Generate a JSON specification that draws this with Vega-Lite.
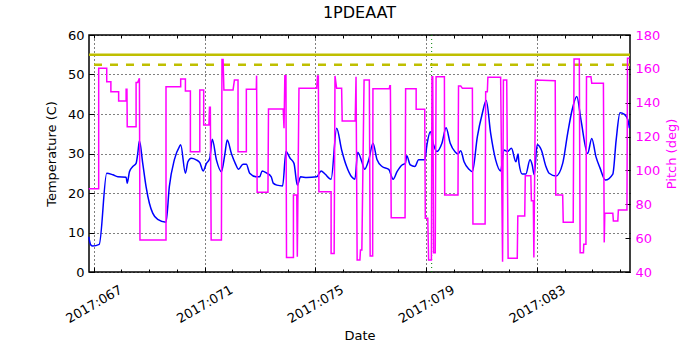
{
  "$schema": "https://vega.github.io/schema/vega-lite/v6.json",
  "width": 541,
  "height": 237,
  "autosize": "none",
  "padding": {"left": 89, "top": 35, "right": 70, "bottom": 78},
  "title": {"text": "1PDEAAT", "fontSize": 16, "font": "DejaVu Sans", "fontWeight": "normal", "offset": 8, "color": "black"},
  "config": {
    "view": {"stroke": "black", "strokeWidth": 1.5},
    "axis": {"labelFont": "DejaVu Sans", "titleFont": "DejaVu Sans", "labelFontSize": 13, "titleFontSize": 13, "titleFontWeight": "normal", "domain": false, "tickColor": "black", "labelColor": "black", "titleColor": "black"}
  },
  "datasets": {
    "temp": [
      {"day": 66.82, "temp": 8.9}, {"day": 66.9, "temp": 6.8}, {"day": 66.96, "temp": 6.6}, {"day": 67.2, "temp": 7.0},
      {"day": 67.47, "temp": 25.0}, {"day": 67.69, "temp": 24.6}, {"day": 67.87, "temp": 24.1}, {"day": 68.17, "temp": 24.0},
      {"day": 68.21, "temp": 22.5}, {"day": 68.29, "temp": 25.4}, {"day": 68.41, "temp": 26.7}, {"day": 68.53, "temp": 27.5},
      {"day": 68.59, "temp": 30.0}, {"day": 68.65, "temp": 33.2}, {"day": 68.77, "temp": 27.5}, {"day": 68.89, "temp": 21.6},
      {"day": 69.01, "temp": 17.4}, {"day": 69.13, "temp": 14.9}, {"day": 69.31, "temp": 13.3}, {"day": 69.61, "temp": 12.6},
      {"day": 69.73, "temp": 21.6}, {"day": 69.91, "temp": 28.4}, {"day": 70.09, "temp": 31.7}, {"day": 70.14, "temp": 32.2},
      {"day": 70.31, "temp": 25.0}, {"day": 70.4, "temp": 27.9}, {"day": 70.52, "temp": 28.8}, {"day": 70.7, "temp": 28.4},
      {"day": 70.83, "temp": 27.7}, {"day": 70.95, "temp": 25.6}, {"day": 71.07, "temp": 27.5}, {"day": 71.19, "temp": 28.8},
      {"day": 71.28, "temp": 33.6}, {"day": 71.43, "temp": 28.4}, {"day": 71.61, "temp": 25.4}, {"day": 71.73, "temp": 29.6},
      {"day": 71.82, "temp": 33.4}, {"day": 71.97, "temp": 30.0}, {"day": 72.11, "temp": 27.5}, {"day": 72.23, "temp": 26.0},
      {"day": 72.39, "temp": 27.3}, {"day": 72.51, "temp": 27.3}, {"day": 72.63, "temp": 25.0}, {"day": 72.87, "temp": 24.1},
      {"day": 72.99, "temp": 24.1}, {"day": 73.08, "temp": 25.6}, {"day": 73.23, "temp": 25.1}, {"day": 73.41, "temp": 24.1},
      {"day": 73.48, "temp": 22.5}, {"day": 73.61, "temp": 22.0}, {"day": 73.82, "temp": 21.8}, {"day": 73.94, "temp": 30.5},
      {"day": 74.09, "temp": 28.8}, {"day": 74.23, "temp": 27.5}, {"day": 74.35, "temp": 22.0}, {"day": 74.47, "temp": 24.1},
      {"day": 74.69, "temp": 23.9}, {"day": 75.05, "temp": 24.1}, {"day": 75.21, "temp": 25.6}, {"day": 75.35, "temp": 24.8},
      {"day": 75.57, "temp": 23.5}, {"day": 75.77, "temp": 36.4}, {"day": 75.95, "temp": 30.9}, {"day": 76.13, "temp": 26.7},
      {"day": 76.31, "temp": 24.1}, {"day": 76.43, "temp": 23.5}, {"day": 76.53, "temp": 30.3}, {"day": 76.68, "temp": 27.9},
      {"day": 76.78, "temp": 26.0}, {"day": 76.93, "temp": 28.4}, {"day": 77.08, "temp": 32.6}, {"day": 77.23, "temp": 28.4},
      {"day": 77.41, "temp": 26.7}, {"day": 77.65, "temp": 26.0}, {"day": 77.81, "temp": 23.5}, {"day": 77.95, "temp": 25.4},
      {"day": 78.13, "temp": 27.1}, {"day": 78.25, "temp": 27.5}, {"day": 78.3, "temp": 29.4}, {"day": 78.43, "temp": 27.1},
      {"day": 78.59, "temp": 26.7}, {"day": 78.73, "temp": 28.4}, {"day": 78.95, "temp": 28.4}, {"day": 79.03, "temp": 32.2},
      {"day": 79.15, "temp": 35.5}, {"day": 79.27, "temp": 32.2}, {"day": 79.39, "temp": 30.5}, {"day": 79.57, "temp": 32.6},
      {"day": 79.72, "temp": 36.5}, {"day": 79.87, "temp": 32.6}, {"day": 80.05, "temp": 30.4}, {"day": 80.15, "temp": 29.9},
      {"day": 80.25, "temp": 30.7}, {"day": 80.37, "temp": 27.9}, {"day": 80.55, "temp": 26.0}, {"day": 80.67, "temp": 25.4},
      {"day": 80.85, "temp": 34.3}, {"day": 81.03, "temp": 40.2}, {"day": 81.17, "temp": 43.4}, {"day": 81.33, "temp": 35.1},
      {"day": 81.51, "temp": 28.4}, {"day": 81.69, "temp": 25.6}, {"day": 81.81, "temp": 30.9}, {"day": 81.93, "temp": 30.5},
      {"day": 82.08, "temp": 31.3}, {"day": 82.24, "temp": 27.9}, {"day": 82.32, "temp": 29.9}, {"day": 82.35, "temp": 27.7},
      {"day": 82.47, "temp": 24.8}, {"day": 82.6, "temp": 24.8}, {"day": 82.75, "temp": 28.4}, {"day": 82.83, "temp": 27.1},
      {"day": 82.9, "temp": 24.6}, {"day": 83.01, "temp": 32.2}, {"day": 83.16, "temp": 30.9}, {"day": 83.32, "temp": 26.8},
      {"day": 83.44, "temp": 25.0}, {"day": 83.69, "temp": 24.3}, {"day": 83.93, "temp": 27.5}, {"day": 84.11, "temp": 35.1},
      {"day": 84.27, "temp": 41.0}, {"day": 84.44, "temp": 44.4}, {"day": 84.59, "temp": 38.5}, {"day": 84.83, "temp": 30.0},
      {"day": 84.98, "temp": 33.8}, {"day": 85.13, "temp": 29.2}, {"day": 85.28, "temp": 26.3}, {"day": 85.47, "temp": 23.3},
      {"day": 85.74, "temp": 24.8}, {"day": 85.86, "temp": 33.4}, {"day": 86.0, "temp": 40.3}, {"day": 86.16, "temp": 39.9},
      {"day": 86.28, "temp": 38.6}, {"day": 86.34, "temp": 36.4}
    ],
    "pitch": [
      {"i": 1, "day": 66.82, "pitch": 89.2}, {"i": 2, "day": 67.18, "pitch": 89.2}, {"i": 3, "day": 67.18, "pitch": 160.3},
      {"i": 4, "day": 67.47, "pitch": 160.3}, {"i": 5, "day": 67.47, "pitch": 152.4}, {"i": 6, "day": 67.62, "pitch": 152.4},
      {"i": 7, "day": 67.62, "pitch": 146.5}, {"i": 8, "day": 67.9, "pitch": 146.5}, {"i": 9, "day": 67.9, "pitch": 141},
      {"i": 10, "day": 68.17, "pitch": 141}, {"i": 11, "day": 68.17, "pitch": 147.9}, {"i": 12, "day": 68.2, "pitch": 147.9},
      {"i": 13, "day": 68.21, "pitch": 125.8}, {"i": 14, "day": 68.53, "pitch": 125.8}, {"i": 15, "day": 68.53, "pitch": 152},
      {"i": 16, "day": 68.59, "pitch": 152}, {"i": 17, "day": 68.65, "pitch": 154.4}, {"i": 18, "day": 68.67, "pitch": 58.9},
      {"i": 19, "day": 69.61, "pitch": 58.9}, {"i": 20, "day": 69.61, "pitch": 149.5}, {"i": 21, "day": 70.14, "pitch": 149.5},
      {"i": 22, "day": 70.14, "pitch": 154}, {"i": 23, "day": 70.31, "pitch": 154}, {"i": 24, "day": 70.31, "pitch": 146.9},
      {"i": 25, "day": 70.49, "pitch": 146.9}, {"i": 26, "day": 70.49, "pitch": 111.1}, {"i": 27, "day": 70.83, "pitch": 111.1},
      {"i": 28, "day": 70.83, "pitch": 147.5}, {"i": 29, "day": 70.97, "pitch": 147.5}, {"i": 30, "day": 70.97, "pitch": 126.8},
      {"i": 31, "day": 71.16, "pitch": 126.8}, {"i": 32, "day": 71.18, "pitch": 137.3}, {"i": 33, "day": 71.21, "pitch": 137.3},
      {"i": 34, "day": 71.24, "pitch": 58.9}, {"i": 35, "day": 71.61, "pitch": 58.9}, {"i": 36, "day": 71.63, "pitch": 165.6},
      {"i": 37, "day": 71.67, "pitch": 165.6}, {"i": 38, "day": 71.7, "pitch": 147.5}, {"i": 39, "day": 72.03, "pitch": 147.5},
      {"i": 40, "day": 72.08, "pitch": 153.4}, {"i": 41, "day": 72.21, "pitch": 153.4}, {"i": 42, "day": 72.21, "pitch": 111.1},
      {"i": 43, "day": 72.51, "pitch": 111.1}, {"i": 44, "day": 72.51, "pitch": 147.9}, {"i": 45, "day": 72.87, "pitch": 147.9},
      {"i": 46, "day": 72.88, "pitch": 156}, {"i": 47, "day": 72.9, "pitch": 87.1}, {"i": 48, "day": 73.29, "pitch": 87.1},
      {"i": 49, "day": 73.31, "pitch": 136.3}, {"i": 50, "day": 73.84, "pitch": 136.3}, {"i": 51, "day": 73.87, "pitch": 124.9},
      {"i": 52, "day": 73.9, "pitch": 156}, {"i": 53, "day": 73.94, "pitch": 156}, {"i": 54, "day": 73.96, "pitch": 48.5},
      {"i": 55, "day": 74.21, "pitch": 48.5}, {"i": 56, "day": 74.21, "pitch": 85.5}, {"i": 57, "day": 74.33, "pitch": 85.5},
      {"i": 58, "day": 74.35, "pitch": 49}, {"i": 59, "day": 74.41, "pitch": 148.5}, {"i": 60, "day": 75.05, "pitch": 148.5},
      {"i": 61, "day": 75.08, "pitch": 155.8}, {"i": 62, "day": 75.11, "pitch": 155.8}, {"i": 63, "day": 75.13, "pitch": 87.4},
      {"i": 64, "day": 75.57, "pitch": 87.4}, {"i": 65, "day": 75.57, "pitch": 51}, {"i": 66, "day": 75.68, "pitch": 51},
      {"i": 67, "day": 75.71, "pitch": 155.8}, {"i": 68, "day": 75.77, "pitch": 148.5}, {"i": 69, "day": 75.95, "pitch": 148.5},
      {"i": 70, "day": 75.97, "pitch": 129.2}, {"i": 71, "day": 76.44, "pitch": 129.2}, {"i": 72, "day": 76.47, "pitch": 155.4},
      {"i": 73, "day": 76.51, "pitch": 47.1}, {"i": 74, "day": 76.61, "pitch": 47.1}, {"i": 75, "day": 76.63, "pitch": 53},
      {"i": 76, "day": 76.68, "pitch": 53}, {"i": 77, "day": 76.76, "pitch": 153.4}, {"i": 78, "day": 76.95, "pitch": 153.4},
      {"i": 79, "day": 76.98, "pitch": 49.5}, {"i": 80, "day": 77.07, "pitch": 49.5}, {"i": 81, "day": 77.08, "pitch": 148.3},
      {"i": 82, "day": 77.67, "pitch": 148.3}, {"i": 83, "day": 77.69, "pitch": 150}, {"i": 84, "day": 77.71, "pitch": 150},
      {"i": 85, "day": 77.74, "pitch": 72.1}, {"i": 86, "day": 78.24, "pitch": 72.1}, {"i": 87, "day": 78.26, "pitch": 148.3},
      {"i": 88, "day": 78.64, "pitch": 148.3}, {"i": 89, "day": 78.64, "pitch": 136.1}, {"i": 90, "day": 78.95, "pitch": 136.1},
      {"i": 91, "day": 78.97, "pitch": 71.7}, {"i": 92, "day": 79.06, "pitch": 71.7}, {"i": 93, "day": 79.09, "pitch": 47.1},
      {"i": 94, "day": 79.19, "pitch": 47.1}, {"i": 95, "day": 79.21, "pitch": 155.4}, {"i": 96, "day": 79.24, "pitch": 155.4},
      {"i": 97, "day": 79.27, "pitch": 51.4}, {"i": 98, "day": 79.33, "pitch": 51.4}, {"i": 99, "day": 79.36, "pitch": 155.4},
      {"i": 100, "day": 79.66, "pitch": 155.4}, {"i": 101, "day": 79.67, "pitch": 85.5}, {"i": 102, "day": 80.15, "pitch": 85.5},
      {"i": 103, "day": 80.17, "pitch": 149.9}, {"i": 104, "day": 80.25, "pitch": 149.9}, {"i": 105, "day": 80.31, "pitch": 148.5},
      {"i": 106, "day": 80.67, "pitch": 148.5}, {"i": 107, "day": 80.69, "pitch": 68.4}, {"i": 108, "day": 81.13, "pitch": 68.4},
      {"i": 109, "day": 81.15, "pitch": 146.5}, {"i": 110, "day": 81.21, "pitch": 146.5}, {"i": 111, "day": 81.23, "pitch": 155},
      {"i": 112, "day": 81.69, "pitch": 155}, {"i": 113, "day": 81.76, "pitch": 46.1}, {"i": 114, "day": 81.79, "pitch": 153.4},
      {"i": 115, "day": 81.91, "pitch": 153.4}, {"i": 116, "day": 81.96, "pitch": 48.1}, {"i": 117, "day": 82.29, "pitch": 48.1},
      {"i": 118, "day": 82.31, "pitch": 73.1}, {"i": 119, "day": 82.56, "pitch": 73.1}, {"i": 120, "day": 82.58, "pitch": 96.9},
      {"i": 121, "day": 82.78, "pitch": 96.9}, {"i": 122, "day": 82.8, "pitch": 82.1}, {"i": 123, "day": 82.87, "pitch": 82.1},
      {"i": 124, "day": 82.89, "pitch": 48.5}, {"i": 125, "day": 82.95, "pitch": 153.4}, {"i": 126, "day": 83.66, "pitch": 153},
      {"i": 127, "day": 83.68, "pitch": 85.5}, {"i": 128, "day": 83.93, "pitch": 85.5}, {"i": 129, "day": 83.95, "pitch": 69.4},
      {"i": 130, "day": 84.31, "pitch": 69.4}, {"i": 131, "day": 84.34, "pitch": 165.8}, {"i": 132, "day": 84.53, "pitch": 165.8},
      {"i": 133, "day": 84.56, "pitch": 51.4}, {"i": 134, "day": 84.68, "pitch": 51.4}, {"i": 135, "day": 84.69, "pitch": 56.4},
      {"i": 136, "day": 84.77, "pitch": 56.4}, {"i": 137, "day": 84.79, "pitch": 155.4}, {"i": 138, "day": 84.95, "pitch": 155.4},
      {"i": 139, "day": 84.98, "pitch": 151.5}, {"i": 140, "day": 85.4, "pitch": 151.5}, {"i": 141, "day": 85.43, "pitch": 57.5},
      {"i": 142, "day": 85.45, "pitch": 74.7}, {"i": 143, "day": 85.74, "pitch": 74.7}, {"i": 144, "day": 85.76, "pitch": 70.1},
      {"i": 145, "day": 85.92, "pitch": 70.1}, {"i": 146, "day": 85.94, "pitch": 76.6}, {"i": 147, "day": 86.25, "pitch": 76.6},
      {"i": 148, "day": 86.27, "pitch": 166.2}, {"i": 149, "day": 86.34, "pitch": 166.2}
    ],
    "limitSolid": [{"level": 55}],
    "limitDashed": [{"level": 52.5}],
    "marker": [{"day": 79.2}]
  },
  "layer": [
    {
      "data": {"name": "marker"},
      "mark": {"type": "rule", "color": "#008000", "strokeWidth": 1, "strokeDash": [1, 3]},
      "encoding": {
        "x": {"field": "day", "type": "quantitative", "scale": {"domain": [66.83, 86.36], "nice": false, "zero": false},
              "axis": {"orient": "top", "values": [67,68,69,70,71,72,73,74,75,76,77,78,79,80,81,82,83,84,85,86], "labels": false, "grid": false, "tickSize": -3, "title": null}}
      }
    },
    {
      "data": {"name": "temp"},
      "mark": {"type": "line", "color": "#0000ff", "strokeWidth": 1.5, "interpolate": "monotone"},
      "encoding": {
        "x": {"field": "day", "type": "quantitative",
              "axis": {"orient": "bottom", "values": [67, 71, 75, 79, 83], "labelExpr": "'2017:0' + datum.value", "labelAngle": -30, "labelAlign": "center", "labelBaseline": "middle", "tickSize": -5, "labelPadding": 37, "grid": true, "gridDash": [1, 3], "gridColor": "black", "gridOpacity": 1, "title": "Date", "titlePadding": 4}},
        "y": {"field": "temp", "type": "quantitative", "scale": {"domain": [0, 60], "nice": false},
              "axis": {"orient": "left", "values": [0, 10, 20, 30, 40, 50, 60], "tickSize": -5, "labelPadding": 10, "grid": true, "gridDash": [1, 3], "gridColor": "black", "gridOpacity": 1, "title": "Temperature (C)", "titlePadding": 9}}
      }
    },
    {
      "data": {"name": "limitSolid"},
      "mark": {"type": "rule", "color": "#bfbf00", "strokeWidth": 2.5},
      "encoding": {
        "y": {"field": "level", "type": "quantitative", "scale": {"domain": [0, 60], "nice": false}, "axis": null}
      }
    },
    {
      "data": {"name": "limitDashed"},
      "mark": {"type": "rule", "color": "#bfbf00", "strokeWidth": 2.5, "strokeDash": [8, 8]},
      "encoding": {
        "y": {"field": "level", "type": "quantitative", "scale": {"domain": [0, 60], "nice": false}, "axis": null}
      }
    },
    {
      "data": {"name": "pitch"},
      "mark": {"type": "line", "color": "#ff00ff", "strokeWidth": 1.5},
      "encoding": {
        "order": {"field": "i", "type": "quantitative"},
        "x": {"field": "day", "type": "quantitative",
              "axis": {"orient": "bottom", "values": [67,68,69,70,71,72,73,74,75,76,77,78,79,80,81,82,83,84,85,86], "labels": false, "grid": false, "tickSize": -3, "title": null}},
        "y": {"field": "pitch", "type": "quantitative", "scale": {"domain": [40, 180], "nice": false},
              "axis": {"orient": "right", "values": [40, 60, 80, 100, 120, 140, 160, 180], "tickSize": -5, "labelPadding": 10, "grid": false, "labelColor": "#ff00ff", "title": "Pitch (deg)", "titleColor": "#ff00ff", "titleAngle": -90, "titlePadding": 19}}
      }
    }
  ],
  "resolve": {"scale": {"y": "independent"}, "axis": {"x": "independent"}}
}
